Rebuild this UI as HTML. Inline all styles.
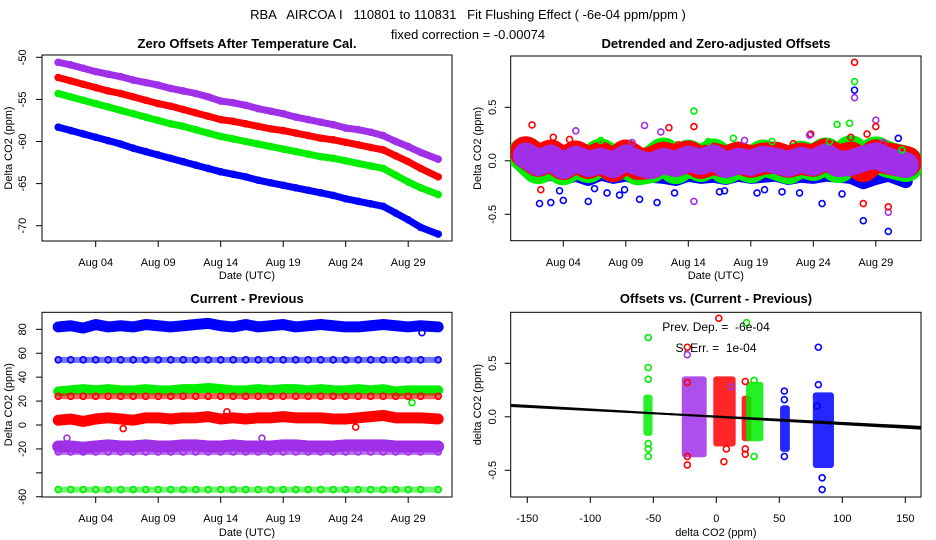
<!DOCTYPE html>
<html><head><meta charset="utf-8"><style>
html,body{margin:0;padding:0;background:#fff;}
svg{display:block;font-family:"Liberation Sans",sans-serif;}
text{white-space:pre;}
</style></head><body>
<svg id="c" width="936" height="540" viewBox="0 0 936 540">
<text x="468" y="19" font-size="13" text-anchor="middle" xml:space="preserve">RBA   AIRCOA I   110801 to 110831   Fit Flushing Effect ( -6e-04 ppm/ppm )</text>
<text x="468" y="39" font-size="13" text-anchor="middle">fixed correction = -0.00074</text>
</svg>
<script>
// ---- data ----
const dayLabels = ["Aug 04","Aug 09","Aug 14","Aug 19","Aug 24","Aug 29"];
const dayTicks = [3,8,13,18,23,28];
const days = [0,1,2,3,4,5,6,7,8,9,10,11,12,13,14,15,16,17,18,19,20,21,22,23,24,25,26,27,28,29,30.4];
// panel 1: zero offsets
const p1Purple = [-50.6,-50.9,-51.3,-51.7,-52.0,-52.3,-52.7,-53.0,-53.3,-53.7,-54.0,-54.3,-54.7,-55.2,-55.4,-55.7,-56.1,-56.4,-56.7,-57.1,-57.4,-57.7,-58.0,-58.4,-58.6,-58.9,-59.3,-60.0,-60.6,-61.3,-62.1];
const p1Red = [-52.4,-52.8,-53.2,-53.6,-54.0,-54.3,-54.7,-55.1,-55.5,-55.8,-56.2,-56.6,-57.0,-57.4,-57.6,-57.9,-58.2,-58.5,-58.7,-59.0,-59.3,-59.6,-59.8,-60.1,-60.4,-60.7,-61.0,-61.7,-62.4,-63.2,-64.2];
const p1Green = [-54.3,-54.7,-55.1,-55.5,-55.9,-56.3,-56.7,-57.1,-57.5,-57.9,-58.2,-58.6,-59.0,-59.4,-59.7,-60.0,-60.3,-60.6,-60.9,-61.2,-61.5,-61.8,-62.0,-62.3,-62.6,-62.9,-63.2,-64.0,-64.8,-65.5,-66.3];
const p1Blue = [-58.3,-58.7,-59.1,-59.5,-59.9,-60.3,-60.8,-61.2,-61.6,-62.0,-62.4,-62.8,-63.2,-63.6,-63.9,-64.2,-64.6,-64.9,-65.2,-65.5,-65.8,-66.1,-66.4,-66.8,-67.1,-67.4,-67.7,-68.5,-69.3,-70.2,-71.0];
const p1Ticks = [-50,-55,-60,-65,-70];
// panel 2: detrended
const p2Purple = [0.05,-0.02,0.03,-0.05,0.02,-0.03,0.0,-0.04,0.03,-0.02,-0.05,0.0,-0.03,0.02,-0.01,0.03,-0.04,0.0,-0.02,0.02,0.0,-0.03,0.01,-0.02,0.04,-0.03,-0.02,0.02,0.05,0.0,-0.04];
const p2Red = [0.08,0.0,0.05,-0.03,0.04,-0.02,0.03,-0.05,0.05,-0.03,-0.02,0.03,0.0,0.04,-0.02,0.02,-0.01,0.03,-0.01,0.02,0.03,-0.01,0.02,0.0,0.06,0.0,0.03,-0.05,0.05,0.02,-0.01];
const p2Green = [0.06,-0.05,0.02,-0.06,0.01,-0.04,0.04,-0.03,0.02,-0.06,-0.04,0.05,-0.05,0.03,-0.03,0.04,-0.05,0.01,-0.04,0.03,-0.01,-0.05,0.02,-0.02,0.05,-0.04,0.07,-0.02,0.06,0.01,-0.03];
const p2Blue = [-0.05,-0.15,-0.12,-0.16,-0.13,-0.17,-0.12,-0.15,-0.13,-0.16,-0.14,-0.15,-0.17,-0.13,-0.15,-0.14,-0.16,-0.13,-0.15,-0.14,-0.13,-0.16,-0.14,-0.15,-0.13,-0.14,-0.15,-0.2,-0.16,-0.13,-0.19];
const p2OutDay = [0.5,1.1,2.0,3.0,5.0,4.0,26.3,26.3,26.3,26.3,13.45,13.45,11.45,27,27,29,29,29,28,28,24.9,25.9,13.45,10.5,9.1,23.7,29.8,9.5,22.8,22.7,26.0,1.2,2.2,6.5,15.5,18.5,20.5,7.5,3.5,6.0,8.5,10.8,12.2,14.6,16.6,17.5,19.7,21.4,24.3,27.3,28.6,30.1,2.7,5.5,7.9,11.9,15.9,19.1,21.9,25.3];
const p2OutVal = [0.335,-0.40,-0.39,-0.37,-0.38,0.28,0.92,0.74,0.66,0.59,0.465,0.32,0.31,-0.56,-0.40,-0.66,-0.48,-0.43,0.38,0.32,0.34,0.35,-0.38,-0.39,-0.36,-0.40,0.21,0.33,0.25,0.24,0.22,-0.27,0.22,-0.30,-0.29,-0.30,-0.29,-0.32,0.20,0.19,0.17,0.27,0.15,0.18,0.21,0.19,0.18,0.16,0.18,0.25,0.17,0.10,-0.28,-0.26,-0.27,-0.30,-0.28,-0.27,-0.30,-0.31];
const p2OutCol = ["r","b","b","b","b","p","r","g","b","p","g","r","r","b","r","b","p","r","p","r","g","g","p","b","b","b","b","p","r","p","r","r","r","b","b","b","b","b","r","g","p","p","r","g","g","p","g","r","g","r","p","g","b","b","b","b","b","b","b","b"];
const p2Ticks = [-0.5,0,0.5];
// panel 3: current - previous
const p3Blue = [82,83,81,84,82,83,82,84,83,82,83,84,85,83,82,84,82,83,84,82,83,84,83,82,82,83,84,83,82,83,82];
const p3Green = [28,29,30,29,30,29,29,30,29,29,30,30,31,30,29,29,30,29,30,30,29,30,29,29,30,29,30,28,29,29,29];
const p3Red = [4,5,3,5,6,5,4,6,6,5,6,6,7,5,6,5,6,6,7,6,6,6,5,5,6,7,8,6,6,6,5];
const p3Purple = [-18,-18,-19,-18,-17,-18,-18,-17,-18,-18,-17,-17,-18,-18,-17,-18,-18,-18,-17,-17,-18,-18,-18,-17,-17,-17,-17,-18,-18,-18,-18];
const p3RowBlue = [54.5,54.5,54.5,54.5,54.5,54.5,54.5,54.5,54.5,54.5,54.5,54.5,54.5,54.5,54.5,54.5,54.5,54.5,54.5,54.5,54.5,54.5,54.5,54.5,54.5,54.5,54.5,54.5,54.5,54.5,54.5];
const p3RowRed = [24,24,24,24,24,24,24,24,24,24,24,24,24,24,24,24,24,24,24,24,24,24,24,24,24,24,24,24,24,24,24];
const p3RowPurple = [-22.5,-22.5,-22.5,-22.5,-22.5,-22.5,-22.5,-22.5,-22.5,-22.5,-22.5,-22.5,-22.5,-22.5,-22.5,-22.5,-22.5,-22.5,-22.5,-22.5,-22.5,-22.5,-22.5,-22.5,-22.5,-22.5,-22.5,-22.5,-22.5,-22.5,-22.5];
const p3RowGreen = [-54,-54,-54,-54,-54,-54,-54,-54,-54,-54,-54,-54,-54,-54,-54,-54,-54,-54,-54,-54,-54,-54,-54,-54,-54,-54,-54,-54,-54,-54,-54];
const p3OutDay = [28.3,23.8,5.2,29.1,0.7,13.5,16.3];
const p3OutVal = [18.6,-1.7,-3,77.2,-11,11,-11];
const p3OutCol = ["g","r","r","b","p","r","p"];
const p3Ticks = [80,60,40,20,0,-20,-40,-60];
const p3TickLabels = ["80","60","40","20","0","-20","","-60"];
// panel 4: offsets vs current-previous
const clX = [-55.5,-25,0,22.5,26,53,79];
const clX2 = [-53,-10,13,25.5,35,56,91];
const clTop = [0.18,0.35,0.35,0.17,0.3,0.08,0.2];
const clBot = [-0.15,-0.35,-0.25,-0.2,-0.2,-0.3,-0.45];
const clCol = ["g","p","r","r","g","b","b"];
const p4OutX = [-54,-54,-54,-54,-54,-54,-23,-23,-23,-23,-23,2,6,8,23,23,23,24,30,30,81,81,54,54,54,84,84,80,12];
const p4OutY = [0.74,0.46,0.35,-0.25,-0.30,-0.37,0.65,-0.45,-0.37,0.32,0.58,0.92,-0.42,-0.30,0.33,-0.30,-0.35,0.88,-0.37,0.34,0.65,0.30,0.24,0.16,-0.37,-0.57,-0.68,0.10,0.28];
const p4OutCol = ["g","g","g","g","g","g","r","r","r","r","p","r","r","r","r","r","r","g","g","g","b","b","b","b","b","b","b","b","p"];
const fitSlopes = [-0.0006,-0.00068];
const fitIntercept = [0.003,0.0];
const p4XTicks = [-150,-100,-50,0,50,100,150];
const p4YTicks = [-0.5,0,0.5];

// ---- rendering ----
const COL = {r:"#ff0000", g:"#00ee00", b:"#0000ff", p:"#a030e8"};
const NS = "http://www.w3.org/2000/svg";
const svg = document.getElementById('c');
function mk(tag, attrs, parent){ const e=document.createElementNS(NS,tag); for(const k in attrs) e.setAttribute(k,attrs[k]); (parent||svg).appendChild(e); return e; }

const panels = {
 tl:{x0:42,x1:452,y0:55,y1:241, sx:d=>58.2+12.5*d, sy:v=>57.3+(-50-v)*8.42, title:"Zero Offsets After Temperature Cal.", tx:247, ty:48, lx:8, ly:22},
 tr:{x0:510.7,x1:921,y0:56,y1:240.7, sx:d=>525.8+12.5*d, sy:v=>160.8-107*v, title:"Detrended and Zero-adjusted Offsets", tx:716, ty:48, lx:477, ly:492},
 bl:{x0:42,x1:452,y0:312.3,y1:497, sx:d=>58.2+12.5*d, sy:v=>425-1.196*v, title:"Current - Previous", tx:247, ty:303, lx:8, ly:22},
 br:{x0:510.7,x1:921,y0:312.3,y1:497, sx:v=>716.3+1.26*v, sy:v=>416.8-107*v, title:"Offsets vs. (Current - Previous)", tx:716, ty:303, lx:477, ly:492}
};

function frame(key, name, xTicks, xLabels, yTicks, yLabels, xTitle, yTitle){
  const P=panels[key];
  const g=mk('g',{});
  
  
  const r=mk('rect',{x:P.x0,y:P.y0,width:P.x1-P.x0,height:P.y1-P.y0,fill:'none',stroke:'#000','stroke-width':1},g);
  
  
  const t=mk('text',{x:P.tx,y:P.ty,'font-size':13,'font-weight':'bold','text-anchor':'middle'},g);
  t.textContent=P.title;
  
  
  const isBottom = P.y0>300;
  const tly = isBottom?522:266, aty = isBottom?536:279;
  xTicks.forEach((v,i)=>{
    const x=P.sx(v);
    mk('line',{x1:x,x2:x,y1:P.y1,y2:P.y1+6,stroke:'#000'},g);
    const tl=mk('text',{x:x,y:tly,'font-size':11,'text-anchor':'middle'},g);
    tl.textContent=xLabels[i];
    
    
  });
  const xt=mk('text',{x:(P.x0+P.x1)/2,y:aty,'font-size':11,'text-anchor':'middle'},g);
  xt.textContent=xTitle;
  
  
  yTicks.forEach((v,i)=>{
    const y=P.sy(v);
    mk('line',{x1:P.x0-6,x2:P.x0,y1:y,y2:y,stroke:'#000'},g);
    if(yLabels[i]!==""){
      const yl=mk('text',{x:0,y:0,'font-size':11,'text-anchor':'middle',transform:`translate(${P.ly+4},${y}) rotate(-90)`},g);
      yl.textContent=yLabels[i];
      
      
    }
  });
  const yt=mk('text',{x:0,y:0,'font-size':11,'text-anchor':'middle',transform:`translate(${P.lx+4},${(P.y0+P.y1)/2}) rotate(-90)`},g);
  yt.textContent=yTitle;
  
  
  return g;
}

function clipFor(key){
  const P=panels[key];
  const cp=mk('clipPath',{id:'clip-'+key});
  mk('rect',{x:P.x0,y:P.y0,width:P.x1-P.x0,height:P.y1-P.y0},cp);
  const g=mk('g',{'clip-path':`url(#clip-${key})`});
  
  
  return g;
}

function series(key, g, xs, ys, col, bandW, name, opacity){
  const P=panels[key];
  const pts=xs.map((x,i)=>P.sx(x)+','+P.sy(ys[i])).join(' ');
  const pl=mk('polyline',{points:pts,fill:'none',stroke:COL[col],'stroke-width':bandW,'stroke-linejoin':'round','stroke-linecap':'round',opacity:opacity||1},g);
  
  
  xs.forEach((x,i)=>{
    const c=mk('circle',{cx:P.sx(x),cy:P.sy(ys[i]),r:3,fill:'none',stroke:COL[col],'stroke-width':1.6},g);
    
    
  });
}
function points(key, g, xs, ys, cols, name){
  const P=panels[key];
  xs.forEach((x,i)=>{
    const c=mk('circle',{cx:P.sx(x),cy:P.sy(ys[i]),r:3,fill:'none',stroke:COL[cols[i]],'stroke-width':1.6},g);
    
    
  });
}

// panel TL
frame('tl','zero-offsets',dayTicks,dayLabels,p1Ticks,p1Ticks.map(String),'Date (UTC)','Delta CO2 (ppm)');
let g1=clipFor('tl');
series('tl',g1,days,p1Purple,'p',7,'purple-offset-series');
series('tl',g1,days,p1Red,'r',7,'red-offset-series');
series('tl',g1,days,p1Green,'g',7,'green-offset-series');
series('tl',g1,days,p1Blue,'b',7,'blue-offset-series');

// panel TR
frame('tr','detrended',dayTicks,dayLabels,p2Ticks,["-0.5","0.0","0.5"],'Date (UTC)','Delta CO2 (ppm)');
let g2=clipFor('tr');
series('tr',g2,days,p2Blue,'b',14,'blue-detrended-series');
series('tr',g2,days,p2Green,'g',36,'green-detrended-series');
series('tr',g2,days,p2Red,'r',32,'red-detrended-series');
series('tr',g2,days,p2Purple,'p',26,'purple-detrended-series');
points('tr',g2,p2OutDay,p2OutVal,p2OutCol,'detrended-outlier');

// panel BL
frame('bl','current-previous',dayTicks,dayLabels,p3Ticks,p3TickLabels,'Date (UTC)','Delta CO2 (ppm)');
let g3=clipFor('bl');
series('bl',g3,days,p3Blue,'b',11,'blue-diff-series');
series('bl',g3,days,p3RowBlue,'b',6,'blue-diff-row',0.55);
series('bl',g3,days,p3Green,'g',10,'green-diff-series');
series('bl',g3,days,p3RowRed,'r',6,'red-diff-row',0.6);
series('bl',g3,days,p3Red,'r',11,'red-diff-series');
series('bl',g3,days,p3RowPurple,'p',6,'purple-diff-row',0.7);
series('bl',g3,days,p3Purple,'p',12,'purple-diff-series');
series('bl',g3,days,p3RowGreen,'g',6,'green-diff-row',0.55);
points('bl',g3,p3OutDay,p3OutVal,p3OutCol,'diff-outlier');

// panel BR
frame('br','offsets-vs-diff',p4XTicks,p4XTicks.map(String),p4YTicks,["-0.5","0.0","0.5"],'delta CO2 (ppm)','delta CO2 (ppm)');
let g4=clipFor('br');
const P4=panels.br;
clX.forEach((x,i)=>{
  const x1=P4.sx(x)-3, x2=P4.sx(clX2[i])+3, y1=P4.sy(clTop[i])-3, y2=P4.sy(clBot[i])+3;
  const r=mk('rect',{x:x1,y:y1,width:x2-x1,height:y2-y1,rx:3,fill:COL[clCol[i]],opacity:0.85},g4);
  
  
});
points('br',g4,p4OutX,p4OutY,p4OutCol,'scatter-outlier');
fitSlopes.forEach((m,i)=>{
  const xa=-170, xb=170;
  const l=mk('line',{x1:P4.sx(xa),y1:P4.sy(fitIntercept[i]+m*xa),x2:P4.sx(xb),y2:P4.sy(fitIntercept[i]+m*xb),stroke:'#000','stroke-width':2},g4);
  
  
});
const a1=mk('text',{x:716,y:331,'font-size':12,'text-anchor':'middle'});
a1.textContent='Prev. Dep. =  -6e-04';


const a2=mk('text',{x:716,y:352,'font-size':12,'text-anchor':'middle'});
a2.textContent='S. Err. =  1e-04';


</script>
</body></html>
